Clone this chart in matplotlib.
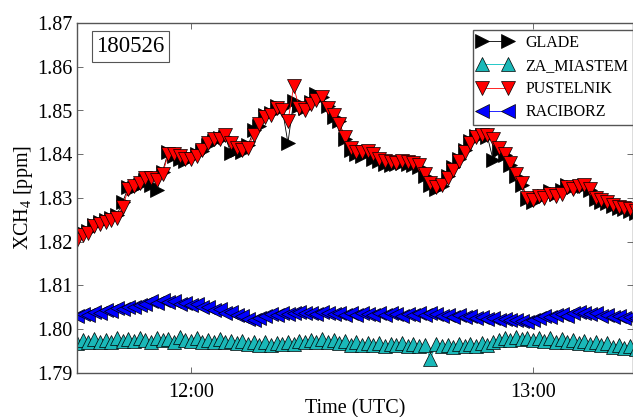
import matplotlib
matplotlib.use('Agg')
import matplotlib.pyplot as plt
import matplotlib.dates as mdates
import pandas as pd

plt.rcParams['font.family'] = ['Liberation Serif', 'DejaVu Serif']
plt.rcParams['mathtext.fontset'] = 'custom'
plt.rcParams['mathtext.rm'] = 'Liberation Serif'
plt.rcParams['mathtext.it'] = 'Liberation Serif:italic'

# XCH4 [ppm], one value per minute starting at 11:40 UTC
glade = [1.8210, 1.8220, 1.8225, 1.8238, 1.8245, 1.8250, 1.8255, 1.8262, 1.8290, 1.8325,
         1.8322, 1.8330, 1.8340, 1.8330, 1.8318, 1.8360, 1.8405, 1.8395, 1.8390, 1.8385,
         1.8392, 1.8400, 1.8408, 1.8420, 1.8430, 1.8438, 1.8440, 1.8403, 1.8410, 1.8405,
         1.8420, 1.8455, 1.8465, 1.8490, 1.8495, 1.8510, 1.8505, 1.8426, 1.8522, 1.8510,
         1.8505, 1.8520, 1.8537, 1.8532, 1.8510, 1.8485, 1.8475, 1.8435, 1.8410, 1.8400,
         1.8395, 1.8405, 1.8390, 1.8385, 1.8378, 1.8375, 1.8378, 1.8380, 1.8378, 1.8375,
         1.8370, 1.8350, 1.8330, 1.8320, 1.8328, 1.8350, 1.8370, 1.8390, 1.8410, 1.8430,
         1.8442, 1.8445, 1.8440, 1.8387, 1.8410, 1.8398, 1.8375, 1.8350, 1.8330, 1.8298,
         1.8292, 1.8300, 1.8305, 1.8315, 1.8308, 1.8318, 1.8330, 1.8325, 1.8325, 1.8328,
         1.8318, 1.8298, 1.8290, 1.8288, 1.8282, 1.8278, 1.8275, 1.8270, 1.8265]

za_miastem = [1.7968, 1.7975, 1.7970, 1.7978, 1.7972, 1.7976, 1.7971, 1.7979, 1.7974, 1.7978,
              1.7973, 1.7980, 1.7976, 1.7972, 1.7981, 1.7975, 1.7978, 1.7970, 1.7982, 1.7976,
              1.7974, 1.7979, 1.7971, 1.7976, 1.7972, 1.7977, 1.7970, 1.7974, 1.7968, 1.7973,
              1.7966, 1.7971, 1.7965, 1.7970, 1.7964, 1.7969, 1.7966, 1.7972, 1.7967, 1.7974,
              1.7970, 1.7976, 1.7971, 1.7978, 1.7972, 1.7976, 1.7969, 1.7974, 1.7965, 1.7970,
              1.7964, 1.7969, 1.7963, 1.7968, 1.7962, 1.7967, 1.7963, 1.7968, 1.7962, 1.7966,
              1.7961, 1.7965, 1.7932, 1.7966, 1.7961, 1.7965, 1.7960, 1.7966, 1.7961, 1.7967,
              1.7962, 1.7968, 1.7963, 1.7970, 1.7975, 1.7980, 1.7976, 1.7982, 1.7977, 1.7981,
              1.7976, 1.7980, 1.7974, 1.7979, 1.7972, 1.7977, 1.7970, 1.7975, 1.7969, 1.7974,
              1.7966, 1.7972, 1.7963, 1.7968, 1.7960, 1.7965, 1.7957, 1.7961, 1.7955]

pustelnik = [1.8205, 1.8215, 1.8220, 1.8235, 1.8240, 1.8245, 1.8250, 1.8255, 1.8280, 1.8320,
             1.8328, 1.8335, 1.8345, 1.8345, 1.8340, 1.8355, 1.8400, 1.8400, 1.8395, 1.8390,
             1.8390, 1.8395, 1.8410, 1.8425, 1.8435, 1.8435, 1.8445, 1.8425, 1.8415, 1.8410,
             1.8415, 1.8445, 1.8470, 1.8485, 1.8490, 1.8505, 1.8500, 1.8475, 1.8555, 1.8505,
             1.8500, 1.8515, 1.8525, 1.8530, 1.8505, 1.8490, 1.8470, 1.8440, 1.8415, 1.8405,
             1.8405, 1.8408, 1.8400, 1.8390, 1.8385, 1.8382, 1.8380, 1.8385, 1.8382, 1.8380,
             1.8375, 1.8355, 1.8335, 1.8325, 1.8330, 1.8345, 1.8365, 1.8385, 1.8405, 1.8425,
             1.8440, 1.8443, 1.8445, 1.8435, 1.8415, 1.8400, 1.8380, 1.8355, 1.8335, 1.8300,
             1.8295, 1.8305, 1.8300, 1.8310, 1.8305, 1.8310, 1.8325, 1.8320, 1.8328, 1.8330,
             1.8320, 1.8300, 1.8295, 1.8290, 1.8285, 1.8280, 1.8278, 1.8275, 1.8270]

raciborz = [1.8030, 1.8035, 1.8033, 1.8040, 1.8038, 1.8045, 1.8042, 1.8048, 1.8046, 1.8052,
            1.8050, 1.8056, 1.8058, 1.8064, 1.8060, 1.8066, 1.8062, 1.8064, 1.8058, 1.8060,
            1.8055, 1.8057, 1.8050, 1.8052, 1.8045, 1.8046, 1.8038, 1.8040, 1.8032, 1.8030,
            1.8024, 1.8020, 1.8026, 1.8030, 1.8034, 1.8032, 1.8036, 1.8034, 1.8038, 1.8040,
            1.8036, 1.8038, 1.8034, 1.8040, 1.8037, 1.8034, 1.8038, 1.8032, 1.8036, 1.8033,
            1.8038, 1.8035, 1.8032, 1.8036, 1.8033, 1.8037, 1.8034, 1.8031, 1.8035, 1.8032,
            1.8036, 1.8033, 1.8037, 1.8034, 1.8030, 1.8033, 1.8029, 1.8032, 1.8028, 1.8030,
            1.8026, 1.8028, 1.8024, 1.8026, 1.8022, 1.8024, 1.8020, 1.8022, 1.8018, 1.8016,
            1.8022, 1.8026, 1.8030, 1.8028, 1.8032, 1.8034, 1.8030, 1.8036, 1.8040, 1.8038,
            1.8034, 1.8036, 1.8030, 1.8032, 1.8028, 1.8030, 1.8026, 1.8028, 1.8025]

times = pd.date_range('2018-05-26 11:40', periods=len(pustelnik), freq='1min')

fig = plt.figure(figsize=(6.33, 4.17), dpi=100)
ax = fig.add_axes([77 / 633, 1 - 373 / 417, 556 / 633, 350 / 417])

style = dict(markersize=10.5, markeredgecolor='black', markeredgewidth=0.5, linewidth=0.6)
ax.plot(times, glade, '>-', color='black', label='GLADE', **style)
ax.plot(times, za_miastem, '^-', color='#00bfbf', markerfacecolor='#1ab8b8', label='ZA_MIASTEM', **style)
ax.plot(times, pustelnik, 'v-', color='red', label='PUSTELNIK', **style)
ax.plot(times, raciborz, '<-', color='blue', label='RACIBORZ', **style)

ax.set_xlim(pd.Timestamp('2018-05-26 11:40'), pd.Timestamp('2018-05-26 13:17:32'))
ax.set_ylim(1.79, 1.87)
ax.set_yticks([1.79, 1.80, 1.81, 1.82, 1.83, 1.84, 1.85, 1.86, 1.87])
ax.yaxis.set_major_formatter(plt.FormatStrFormatter('%.2f'))
ax.xaxis.set_major_locator(mdates.HourLocator())
ax.xaxis.set_major_formatter(mdates.DateFormatter('%H:%M'))

ax.tick_params(direction='in', top=True, right=True, labelsize=14.5, length=4, width=0.6, color='#555555')
ax.tick_params(axis='x', pad=7)
ax.tick_params(axis='y', pad=3)
for sp in ax.spines.values():
    sp.set_color('#555555')
    sp.set_linewidth(1.0)

ax.set_xlabel('Time (UTC)', fontsize=14.5, labelpad=-2)
ax.set_ylabel('XCH$_4$ [ppm]', fontsize=14.5, labelpad=2)

ax.text(0.035, 0.963, '180526', transform=ax.transAxes, fontsize=16.5, ha='left', va='top',
        bbox=dict(boxstyle='square,pad=0.2', facecolor='white', edgecolor='#555555', linewidth=0.8))

leg = ax.legend(loc='upper right', bbox_to_anchor=(1.0, 1 - 30 / 417), bbox_transform=fig.transFigure,
                fontsize=11.5, numpoints=2, fancybox=False, framealpha=1, borderaxespad=0,
                labelspacing=0.45, handlelength=2.2, handletextpad=0.8, borderpad=0.3)
leg.get_frame().set_edgecolor('#555555')
leg.get_frame().set_linewidth(1.0)

fig.savefig('out.png', dpi=100)
